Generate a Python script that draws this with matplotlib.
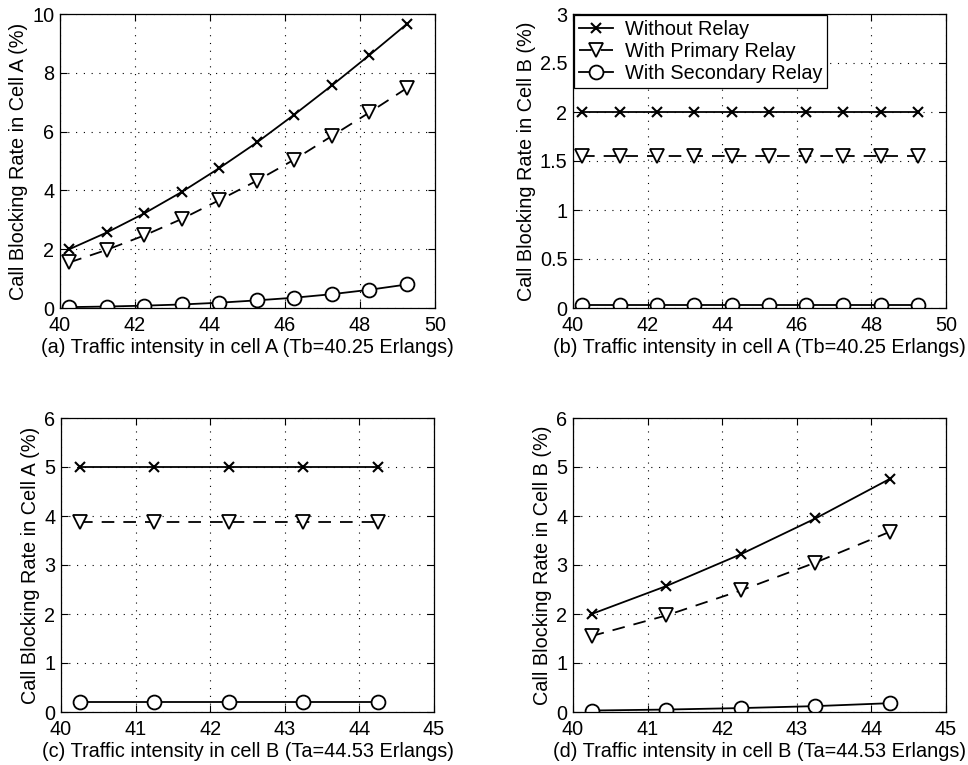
import numpy as np
import matplotlib
matplotlib.use("Agg")
import matplotlib.pyplot as plt

plt.rcParams["font.family"] = ["Liberation Sans", "DejaVu Sans"]
plt.rcParams["font.size"] = 14.3

# ---------------------------------------------------------------------------
# DATA
# ---------------------------------------------------------------------------
x_top = [40.25, 41.25, 42.25, 43.25, 44.25, 45.25, 46.25, 47.25, 48.25, 49.25]
x_bot = [40.25, 41.25, 42.25, 43.25, 44.25]

a_without = [2.0, 2.57, 3.22, 3.95, 4.76, 5.63, 6.58, 7.57, 8.6, 9.66]
a_primary = [1.55, 1.98, 2.47, 3.03, 3.67, 4.33, 5.05, 5.85, 6.65, 7.48]
a_secondary = [0.03, 0.05, 0.08, 0.12, 0.18, 0.26, 0.35, 0.47, 0.62, 0.8]

b_without = [2.0] * 10
b_primary = [1.55] * 10
b_secondary = [0.03] * 10

c_without = [5.0] * 5
c_primary = [3.88] * 5
c_secondary = [0.2] * 5

d_without = [2.0, 2.57, 3.22, 3.95, 4.76]
d_primary = [1.55, 1.97, 2.48, 3.05, 3.68]
d_secondary = [0.03, 0.05, 0.08, 0.12, 0.18]

labels = ["Without Relay", "With Primary Relay", "With Secondary Relay"]

panels = [
    # (axes rect in px: left, top, right, bottom), x, series, xlim, xticks, ylim, yticks, ylabel, xlabel
    ((60, 14, 435, 308), x_top, (a_without, a_primary, a_secondary),
     (40, 50), np.arange(40, 51, 2), (0, 10), np.arange(0, 11, 2),
     "Call Blocking Rate in Cell A (%)", "(a) Traffic intensity in cell A (Tb=40.25 Erlangs)"),
    ((573, 14, 946, 308), x_top, (b_without, b_primary, b_secondary),
     (40, 50), np.arange(40, 51, 2), (0, 3), np.arange(0, 3.01, 0.5),
     "Call Blocking Rate in Cell B (%)", "(b) Traffic intensity in cell A (Tb=40.25 Erlangs)"),
    ((61, 418, 434, 712), x_bot, (c_without, c_primary, c_secondary),
     (40, 45), np.arange(40, 46, 1), (0, 6), np.arange(0, 7, 1),
     "Call Blocking Rate in Cell A (%)", "(c) Traffic intensity in cell B (Ta=44.53 Erlangs)"),
    ((573, 418, 946, 712), x_bot, (d_without, d_primary, d_secondary),
     (40, 45), np.arange(40, 46, 1), (0, 6), np.arange(0, 7, 1),
     "Call Blocking Rate in Cell B (%)", "(d) Traffic intensity in cell B (Ta=44.53 Erlangs)"),
]

W, H = 968, 765
fig = plt.figure(figsize=(W / 100, H / 100), dpi=100)


def fmt(v):
    return f"{v:g}"


for i, (rect, xs, series, xlim, xticks, ylim, yticks, ylabel, xlabel) in enumerate(panels):
    l, t, r, b = rect
    ax = fig.add_axes([l / W, 1 - b / H, (r - l) / W, (b - t) / H])
    without, primary, secondary = series
    ax.plot(xs, without, "k-x", lw=1.3, ms=7, mew=1.5, label=labels[0])
    ax.plot(xs, primary, "k--v", lw=1.3, ms=10, mfc="white", mew=1.3,
            dashes=(7, 5), label=labels[1])
    ax.plot(xs, secondary, "k-o", lw=1.3, ms=10, mfc="white", mew=1.3, label=labels[2])

    ax.set_xlim(*xlim)
    ax.set_ylim(*ylim)
    ax.set_xticks(xticks)
    ax.set_xticklabels([fmt(v) for v in xticks])
    ax.set_yticks(yticks)
    ax.set_yticklabels([fmt(v) for v in yticks])
    ax.grid(True, color="black", linestyle=(0, (1, 6)), linewidth=0.8)
    ax.tick_params(direction="in", length=5, width=0.8, top=True, right=True,
                   labelsize=14.3, colors="black")
    ax.tick_params(axis="x", pad=6)
    ax.tick_params(axis="y", pad=4)
    for sp in ax.spines.values():
        sp.set_linewidth(0.9)
    ax.set_ylabel(ylabel, fontsize=14.3, labelpad=3)
    ax.set_xlabel(xlabel, fontsize=14.3, labelpad=2)

    if i == 1:
        leg = ax.legend(loc="upper left", fontsize=14.3, frameon=True, fancybox=False,
                        edgecolor="black", framealpha=1, borderpad=0.25,
                        labelspacing=0.15, handlelength=1.7, handletextpad=0.6,
                        borderaxespad=0.05)
        leg.get_frame().set_linewidth(0.9)

fig.savefig("out.png", dpi=100)
